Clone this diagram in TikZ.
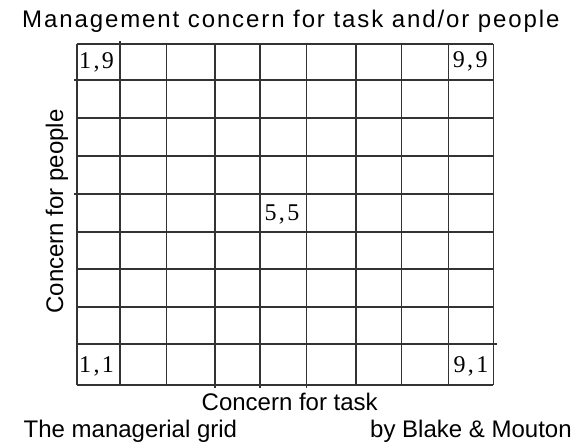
\documentclass[tikz,border=0pt]{standalone}
\usepackage{fontspec}
\setmainfont{Liberation Sans}
\newfontfamily\titlefont[LetterSpace=7.9]{Liberation Sans}
\newfontfamily\numfont[LetterSpace=10]{Liberation Serif}
\begin{document}
\begin{tikzpicture}[x=1pt,y=-1pt,
  gridline/.style={line width=1.5pt, draw=black!80},
  lbl/.style={font=\fontsize{24}{28}\selectfont, inner sep=0pt, anchor=base west},
  num/.style={font=\numfont\fontsize{24}{27}\selectfont, inner sep=0pt, anchor=base west}]
\useasboundingbox[fill=white] (0,0) rectangle (575,445);
% grid
\def\xs{77,120,166.7,215,260,306.7,356,401.7,448.3,493.3}
\def\ys{44,80,118,156,194,232,269,307,344,385}
\foreach \x in \xs {\draw[gridline] (\x,44) -- (\x,385);}
\foreach \y in \ys {\draw[gridline] (77,\y) -- (493.3,\y);}
% small overshoots as in the reference
\draw[gridline] (120,41) -- (120,44);
\foreach \x in {215,260,306.7} {\draw[gridline] (\x,385) -- (\x,388);}
\foreach \y in {80,194} {\draw[gridline] (74,\y) -- (77,\y);}
\draw[gridline] (493.3,344) -- (496.5,344);
% texts
\node[anchor=base west, inner sep=0pt, font=\titlefont\fontsize{24}{28}\selectfont] (title) at (22,27) {Management concern for task and/or people};
\node[rotate=90, anchor=base, inner sep=0pt, font=\fontsize{24}{28}\selectfont] (ylab) at (63,211.5) {Concern for people};
\node[lbl] (xlab) at (201.5,410) {Concern for task};
\node[lbl] (grid) at (23.5,437) {The managerial grid};
\node[lbl] (auth) at (370,437) {by Blake \& Mouton};
\node[num] (n19) at (79,68) {1,9};
\node[num] (n99) at (452.6,67) {9,9};
\node[num] (n55) at (264.4,220.5) {5,5};
\node[num] (n11) at (79,372) {1,1};
\node[num] (n91) at (453.3,372) {9,1};
\end{tikzpicture}
\end{document}
